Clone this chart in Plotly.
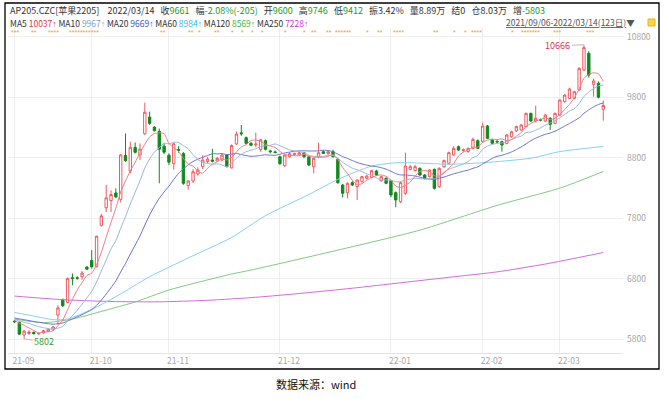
import plotly.graph_objects as go
import pandas as pd

# ---------------- data ----------------
day_idx = list(range(123))
opens = [6095, 6075, 5866, 5890, 5910, 5885, 5900, 5925, 5955, 6195,
         6445, 6405, 6815, 6812, 6830, 6990, 7100, 6995, 7680, 7970,
         8090, 8215, 8110, 8835, 8580, 8968, 8843, 9195, 9470, 9305,
         9235, 8990, 8840, 8700, 8935, 8870, 8336, 8413, 8529, 8650,
         8733, 8760, 8744, 8760, 8843, 8630, 9025, 9210, 9130, 9036,
         9010, 8937, 9080, 8910, 8895, 8815, 8665, 8815, 8850, 8843,
         8880, 8815, 8650, 8815, 8898, 8865, 8898, 8771, 8347, 8220,
         8386, 8320, 8402, 8457, 8474, 8578, 8419, 8457, 8419, 8220,
         8071, 8210, 8606, 8584, 8622, 8512, 8485, 8606, 8320, 8650,
         8705, 8843, 8981, 8920, 8900, 8953, 9080, 9064, 9323, 9091,
         9070, 9064, 9036, 9146, 9240, 9257, 9312, 9532, 9405, 9425,
         9405, 9450, 9367, 9505, 9725, 9780, 9780, 9918, 10250, 10525,
         10012, 10030, 9600]
highs = [6110, 6090, 5950, 5945, 5925, 5905, 5950, 5975, 6015, 6360,
         6470, 6815, 6885, 6840, 6925, 7005, 7270, 7510, 7870, 8350,
         8260, 8290, 8860, 9200, 9060, 9050, 9035, 9710, 9560, 9320,
         9280, 9035, 8870, 9045, 8990, 8890, 8430, 8610, 8640, 8840,
         8810, 8945, 8810, 8860, 8860, 9020, 9230, 9340, 9150, 9060,
         9212, 9110, 9100, 8930, 8915, 8830, 8860, 8890, 8880, 8895,
         8890, 8830, 8800, 9047, 8920, 8920, 8930, 8790, 8365, 8390,
         8410, 8440, 8500, 8510, 8600, 8600, 8500, 8475, 8430, 8240,
         8400, 8882, 8680, 8680, 8640, 8530, 8610, 8620, 8640, 8770,
         8900, 8990, 9000, 8950, 8965, 9130, 9100, 9378, 9340, 9110,
         9085, 9080, 9190, 9245, 9330, 9355, 9545, 9545, 9660, 9445,
         9520, 9470, 9545, 9765, 9850, 9957, 9905, 10290, 10666, 10560,
         10110, 10060, 9746]
lows = [6065, 5870, 5802, 5870, 5875, 5870, 5890, 5915, 5940, 6040,
        6330, 6390, 6690, 6780, 6780, 6940, 6965, 6985, 7660, 7900,
        7900, 8130, 8060, 8730, 8540, 8870, 8760, 9175, 9340, 9235,
        8375, 8860, 8680, 8600, 8880, 8350, 8270, 8380, 8500, 8610,
        8710, 8720, 8730, 8740, 8640, 8620, 9010, 9160, 9020, 8990,
        8970, 8900, 8920, 8870, 8870, 8680, 8645, 8800, 8830, 8830,
        8790, 8660, 8540, 8790, 8860, 8850, 8800, 8370, 8140, 8125,
        8330, 8100, 8390, 8440, 8460, 8500, 8400, 8360, 8143, 7980,
        8050, 8182, 8590, 8570, 8500, 8440, 8470, 8270, 8300, 8630,
        8690, 8830, 8910, 8890, 8880, 8940, 8940, 9050, 9110, 9020,
        9040, 8898, 9020, 9130, 9225, 9245, 9300, 9390, 9380, 9400,
        9390, 9257, 9350, 9490, 9710, 9770, 9765, 9905, 10230, 10122,
        9810, 9780, 9412]
closes = [6085, 5880, 5930, 5915, 5888, 5892, 5938, 5962, 6000, 6315,
          6350, 6803, 6800, 6805, 6890, 6955, 6995, 7500, 7835, 8135,
          8190, 8150, 8845, 8748, 8970, 8888, 8940, 9550, 9367, 9245,
          8940, 8890, 8725, 9030, 8920, 8375, 8413, 8567, 8595, 8760,
          8777, 8740, 8788, 8843, 8650, 9000, 9190, 9195, 9036, 9005,
          9025, 9095, 8937, 8898, 8885, 8700, 8843, 8865, 8870, 8880,
          8815, 8678, 8788, 8880, 8870, 8898, 8815, 8385, 8210, 8375,
          8347, 8430, 8485, 8496, 8584, 8512, 8485, 8375, 8182, 8100,
          8386, 8661, 8650, 8650, 8512, 8457, 8595, 8292, 8623, 8750,
          8882, 8953, 8926, 8930, 8955, 9102, 8953, 9323, 9119, 9036,
          9060, 9009, 9174, 9229, 9312, 9340, 9532, 9405, 9450, 9422,
          9505, 9350, 9532, 9753, 9835, 9935, 9890, 10276, 10620, 10166,
          10067, 9800, 9661]
# closes before 2021/09/06 (estimated) used to seed the short moving averages
pre_closes = [6210, 6190, 6230, 6180, 6150, 6170, 6200, 6160, 6140, 6120,
              6150, 6130, 6110, 6160, 6140, 6120, 6100, 6130, 6110]

# long moving averages at sample days
ma60_idx = [0, 4, 8, 11, 16, 21, 28, 36, 45, 52, 61, 67, 74, 79, 84, 90, 97, 107, 113, 122]
ma60_val = [6240, 6180, 6120, 6130, 6290, 6500, 6830, 7140, 7480, 7840, 8190, 8440,
            8660, 8715, 8710, 8690, 8715, 8790, 8900, 8985]
ma120_idx = [0, 6, 12, 20, 25, 32, 45, 49, 67, 84, 100, 113, 122]
ma120_val = [6130, 6070, 6130, 6300, 6412, 6610, 6875, 6940, 7270, 7600, 8010, 8295, 8570]
ma250_idx = [0, 10, 20, 30, 40, 50, 60, 70, 80, 90, 100, 110, 122]
ma250_val = [6510, 6450, 6420, 6415, 6440, 6490, 6560, 6640, 6730, 6820, 6910, 7040, 7230]

month_tick_idx = [0, 16, 32, 55, 78, 97, 113]
month_tick_text = ["21-09", "21-10", "21-11", "21-12", "22-01", "22-02", "22-03"]
price_ticks = [5800, 6800, 7800, 8800, 9800, 10800]
price_tick_text = ["5800", "6800", "7800", "8800", "9800", "10800"]

high_mark = (118, 10666)
low_mark = (2, 5802)

# ---------------- derived ----------------
all_close = pd.Series(pre_closes + closes)
n_pre = len(pre_closes)
ma5 = all_close.rolling(5).mean().iloc[n_pre:].tolist()
ma10 = all_close.rolling(10).mean().iloc[n_pre:].tolist()
ma20 = all_close.rolling(20).mean().iloc[n_pre:].tolist()

# ---------------- layout geometry ----------------
W, H = 665, 399
ML, MR, MT, MB = 8, 42, 28, 46
PW = W - ML - MR
PH = H - MT - MB


def px2x(px):
    return (px - ML) / PW


def px2y(py):
    return (H - MB - py) / PH


C_UP = "#f05a60"
C_DN = "#11891d"
C_MA5 = "#ee7b86"
C_MA10 = "#9bb5d8"
C_MA20 = "#6870d6"
C_MA60 = "#86d2ef"
C_MA120 = "#82c982"
C_MA250 = "#d46be0"

fig = go.Figure()
for xs, ys, col in [
    (ma250_idx, ma250_val, C_MA250),
    (ma120_idx, ma120_val, C_MA120),
    (ma60_idx, ma60_val, C_MA60),
    (day_idx, ma20, C_MA20),
    (day_idx, ma10, C_MA10),
    (day_idx, ma5, C_MA5),
]:
    fig.add_trace(go.Scatter(x=xs, y=ys, mode="lines",
                             line=dict(color=col, width=1, shape="spline", smoothing=0.6),
                             hoverinfo="skip", showlegend=False))

fig.add_trace(go.Candlestick(
    x=day_idx, open=opens, high=highs, low=lows, close=closes,
    increasing=dict(line=dict(color=C_UP, width=1), fillcolor="#ffffff"),
    decreasing=dict(line=dict(color=C_DN, width=1), fillcolor=C_DN),
    whiskerwidth=0, hoverinfo="skip", showlegend=False))

FONT = "Noto Sans CJK SC, Noto Sans, sans-serif"
G = "#1f9a2a"
D = "#333333"


def span(t, c):
    return f"<span style='color:{c}'>{t}</span>"


def arrow(c):
    return f"<span style='color:{c};font-family:Liberation Sans'>↑</span>"


NB = "\u00a0"
line1 = (span("AP205.CZC[苹果2205]", D) + NB * 4 + span("2022/03/14", D) + NB * 3
         + span("收", D) + span("9661", G) + NB * 3
         + span("幅", D) + span("-2.08%(-205)", G) + NB * 3
         + span("开", D) + span("9600", G) + NB * 3
         + span("高", D) + span("9746", G) + NB * 3
         + span("低", D) + span("9412", G) + NB * 3
         + span("振3.42%", D) + NB * 3 + span("量8.89万", D) + NB * 3
         + span("结0", D) + NB * 3 + span("仓8.03万", D) + NB * 3
         + span("增", D) + span("-5803", G))
ma_items = [("MA5", "10037", "#e8334f"), ("MA10", "9967", "#7d9fcf"),
            ("MA20", "9669", "#3e52d6"), ("MA60", "8984", "#3ab5e6"),
            ("MA120", "8569", "#43b543"), ("MA250", "7228", "#c83ad6")]
line2 = NB.join(span(n, D) + NB + span(v, c) + arrow(c) for n, v, c in ma_items)

ann = [
    dict(x=px2x(8), y=px2y(10), xref="paper", yref="paper", text=line1, showarrow=False,
         xanchor="left", yanchor="middle", font=dict(size=9, family=FONT, color=D)),
    dict(x=px2x(8), y=px2y(23), xref="paper", yref="paper", text=line2, showarrow=False,
         xanchor="left", yanchor="middle", font=dict(size=8.5, family=FONT, color=D)),
    dict(x=px2x(637), y=px2y(22), xref="paper", yref="paper",
         text="<u>2021/09/06-2022/03/14(123日)</u>▼", showarrow=False,
         xanchor="right", yanchor="middle", font=dict(size=8.5, family=FONT, color="#555555")),
    dict(x=high_mark[0], y=high_mark[1], xref="x", yref="y", text=str(high_mark[1]),
         showarrow=True, arrowhead=0, arrowwidth=1, arrowcolor="#bbbbbb", ax=-26, ay=1,
         font=dict(size=9, family=FONT, color="#e8334f")),
    dict(x=low_mark[0], y=low_mark[1], xref="x", yref="y", text=str(low_mark[1]),
         showarrow=True, arrowhead=0, arrowwidth=1, arrowcolor="#bbbbbb", ax=20, ay=3,
         font=dict(size=9, family=FONT, color="#3a9a3a")),
    dict(x=0.5, y=px2y(384), xref="paper", yref="paper", text="数据来源：wind",
         showarrow=False, xanchor="center", yanchor="middle",
         font=dict(size=11, family=FONT, color="#111111")),
]

star_groups = [(10, 3), (30, 2), (47, 4), (68, 11), (159, 2), (187, 2), (197, 1), (213, 2),
               (230, 1), (240, 1), (250, 1), (260, 1), (283, 1), (302, 1), (310, 2),
               (325, 2), (334, 6), (365, 1), (376, 2), (392, 4), (432, 2), (452, 1),
               (463, 1), (470, 4), (510, 1), (520, 7), (552, 3), (585, 3)]
for sx, cnt in star_groups:
    ann.append(dict(x=px2x(sx), y=px2y(33), xref="paper", yref="paper", text="*" * cnt,
                    showarrow=False, xanchor="left", yanchor="middle", borderpad=0,
                    font=dict(size=7, family="Liberation Sans", color="#f2a321")))

shapes = [
    dict(type="rect", xref="paper", yref="paper", x0=px2x(5), x1=px2x(659),
         y0=px2y(369), y1=px2y(3), line=dict(color="#000000", width=1.3)),
    dict(type="rect", xref="paper", yref="paper", x0=px2x(648), x1=px2x(655),
         y0=px2y(26), y1=px2y(19), line=dict(color="#f0b400", width=1), fillcolor="#f7d35a"),
]

fig.update_layout(
    width=W, height=H,
    margin=dict(l=ML, r=MR, t=MT, b=MB),
    paper_bgcolor="white", plot_bgcolor="white",
    showlegend=False,
    font=dict(family=FONT),
    annotations=ann, shapes=shapes,
    xaxis=dict(range=[(ML - 14.5) / 4.826, (W - MR - 14.5) / 4.826],
               tickvals=month_tick_idx, ticktext=month_tick_text,
               showgrid=True, gridcolor="#eeeeee", gridwidth=1, zeroline=False,
               showline=True, linecolor="#e3e3e3", ticks="",
               tickfont=dict(size=8.5, color="#a6a6a6"), ticklabelshift=9,
               rangeslider=dict(visible=False), fixedrange=True),
    yaxis=dict(side="right", range=[5800 - 14 / 0.06046, 5800 + 311 / 0.06046],
               tickvals=price_ticks, ticktext=price_tick_text,
               showgrid=True, gridcolor="#eeeeee", gridwidth=1,
               zeroline=False, showline=False, ticks="",
               tickfont=dict(size=8.5, color="#a6a6a6"), ticklabelstandoff=3,
               fixedrange=True),
)

fig.write_html("out.html", config={"displayModeBar": False, "staticPlot": True},
               post_script="document.body.style.margin='0px';document.body.style.overflow='hidden';")
